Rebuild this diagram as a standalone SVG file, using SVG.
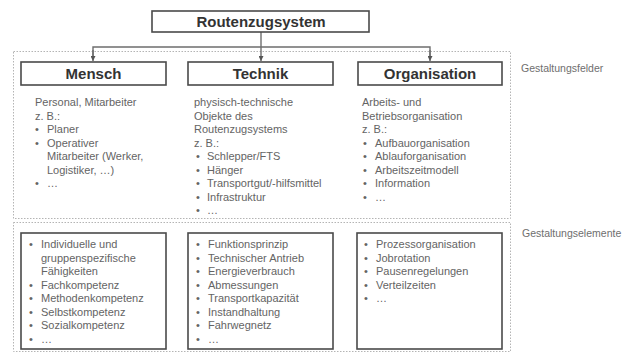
<svg xmlns="http://www.w3.org/2000/svg" width="644" height="352" viewBox="0 0 644 352">
  <style>
    .box { fill: #ffffff; stroke: #4a4a4a; stroke-width: 1.6; }
    .frame { fill: none; stroke: #b4b4b4; stroke-width: 1; stroke-dasharray: 1.5 1.5; }
    .head { font-family: "Liberation Sans", Arial, sans-serif; font-size: 15px; font-weight: bold; fill: #333333; text-anchor: middle; }
    .txt { font-family: "Liberation Sans", Arial, sans-serif; font-size: 11px; fill: #646464; }
    .side { font-family: "Liberation Sans", Arial, sans-serif; font-size: 10.5px; fill: #6e6e6e; }
    .conn { fill: none; stroke: #6e6e6e; stroke-width: 1.4; }
  </style>
  <defs>
    <marker id="arrow" viewBox="0 0 8 8" refX="8" refY="4" markerWidth="5" markerHeight="5" orient="auto" markerUnits="userSpaceOnUse">
      <path d="M0,0 L8,4 L0,8 z" fill="#555555"/>
    </marker>
  </defs>

  <!-- dotted frames: design fields and design elements -->
  <rect class="frame" x="13.5" y="51.5" width="497" height="167"/>
  <rect class="frame" x="13.5" y="222.5" width="497" height="129"/>

  <text class="side" x="521" y="72">Gestaltungsfelder</text>
  <text class="side" x="522" y="237">Gestaltungselemente</text>

  <!-- connectors -->
  <g id="connectors">
    <path class="conn" d="M261,32 V47"/>
    <path class="conn" d="M93,56 V47 H430 V56"/>
    <path class="conn" d="M93,50 V61" marker-end="url(#arrow)"/>
    <path class="conn" d="M261,47 V61" marker-end="url(#arrow)"/>
    <path class="conn" d="M430,50 V61" marker-end="url(#arrow)"/>
  </g>

  <g id="root">
    <rect class="box" x="152" y="11" width="217" height="21"/>
    <text class="head" x="261" y="27">Routenzugsystem</text>
  </g>

  <!-- Mensch -->
  <g id="mensch">
    <rect class="box" x="21" y="62" width="145" height="23"/>
    <text class="head" x="93.5" y="79">Mensch</text>
    <text class="txt" x="35" y="106">Personal, Mitarbeiter</text>
    <text class="txt" x="35" y="119.5">z. B.:</text>
    <text class="txt" x="35" y="133">•</text><text class="txt" x="47" y="133">Planer</text>
    <text class="txt" x="35" y="146.5">•</text><text class="txt" x="47" y="146.5">Operativer</text>
    <text class="txt" x="47" y="160">Mitarbeiter (Werker,</text>
    <text class="txt" x="47" y="173.5">Logistiker, …)</text>
    <text class="txt" x="35" y="187">•</text><text class="txt" x="47" y="187">…</text>
  </g>

  <!-- Technik -->
  <g id="technik">
    <rect class="box" x="188" y="62" width="145" height="23"/>
    <text class="head" x="260.5" y="79">Technik</text>
    <text class="txt" x="194" y="106">physisch-technische</text>
    <text class="txt" x="194" y="119.5">Objekte des</text>
    <text class="txt" x="194" y="133">Routenzugsystems</text>
    <text class="txt" x="194" y="146.5">z. B.:</text>
    <text class="txt" x="196" y="160">•</text><text class="txt" x="207" y="160">Schlepper/FTS</text>
    <text class="txt" x="196" y="173.5">•</text><text class="txt" x="207" y="173.5">Hänger</text>
    <text class="txt" x="196" y="187">•</text><text class="txt" x="207" y="187">Transportgut/-hilfsmittel</text>
    <text class="txt" x="196" y="200.5">•</text><text class="txt" x="207" y="200.5">Infrastruktur</text>
    <text class="txt" x="196" y="214">•</text><text class="txt" x="207" y="214">…</text>
  </g>

  <!-- Organisation -->
  <g id="organisation">
    <rect class="box" x="358" y="62" width="144" height="23"/>
    <text class="head" x="430" y="79">Organisation</text>
    <text class="txt" x="362" y="106">Arbeits- und</text>
    <text class="txt" x="362" y="119.5">Betriebsorganisation</text>
    <text class="txt" x="362" y="133">z. B.:</text>
    <text class="txt" x="363" y="146.5">•</text><text class="txt" x="375" y="146.5">Aufbauorganisation</text>
    <text class="txt" x="363" y="160">•</text><text class="txt" x="375" y="160">Ablauforganisation</text>
    <text class="txt" x="363" y="173.5">•</text><text class="txt" x="375" y="173.5">Arbeitszeitmodell</text>
    <text class="txt" x="363" y="187">•</text><text class="txt" x="375" y="187">Information</text>
    <text class="txt" x="363" y="200.5">•</text><text class="txt" x="375" y="200.5">…</text>
  </g>

  <!-- design elements -->
  <g id="elemente-mensch">
    <rect class="box" x="21" y="233" width="145" height="116"/>
    <text class="txt" x="29" y="248">•</text><text class="txt" x="41" y="248">Individuelle und</text>
    <text class="txt" x="41" y="261.5">gruppenspezifische</text>
    <text class="txt" x="41" y="275">Fähigkeiten</text>
    <text class="txt" x="29" y="288.5">•</text><text class="txt" x="41" y="288.5">Fachkompetenz</text>
    <text class="txt" x="29" y="302">•</text><text class="txt" x="41" y="302">Methodenkompetenz</text>
    <text class="txt" x="29" y="315.5">•</text><text class="txt" x="41" y="315.5">Selbstkompetenz</text>
    <text class="txt" x="29" y="329">•</text><text class="txt" x="41" y="329">Sozialkompetenz</text>
    <text class="txt" x="29" y="342.5">•</text><text class="txt" x="41" y="342.5">…</text>
  </g>

  <g id="elemente-technik">
    <rect class="box" x="188" y="233" width="145" height="116"/>
    <text class="txt" x="196" y="248">•</text><text class="txt" x="208" y="248">Funktionsprinzip</text>
    <text class="txt" x="196" y="261.5">•</text><text class="txt" x="208" y="261.5">Technischer Antrieb</text>
    <text class="txt" x="196" y="275">•</text><text class="txt" x="208" y="275">Energieverbrauch</text>
    <text class="txt" x="196" y="288.5">•</text><text class="txt" x="208" y="288.5">Abmessungen</text>
    <text class="txt" x="196" y="302">•</text><text class="txt" x="208" y="302">Transportkapazität</text>
    <text class="txt" x="196" y="315.5">•</text><text class="txt" x="208" y="315.5">Instandhaltung</text>
    <text class="txt" x="196" y="329">•</text><text class="txt" x="208" y="329">Fahrwegnetz</text>
    <text class="txt" x="196" y="342.5">•</text><text class="txt" x="208" y="342.5">…</text>
  </g>

  <g id="elemente-organisation">
    <rect class="box" x="357" y="233" width="145" height="116"/>
    <text class="txt" x="364" y="248">•</text><text class="txt" x="376" y="248">Prozessorganisation</text>
    <text class="txt" x="364" y="261.5">•</text><text class="txt" x="376" y="261.5">Jobrotation</text>
    <text class="txt" x="364" y="275">•</text><text class="txt" x="376" y="275">Pausenregelungen</text>
    <text class="txt" x="364" y="288.5">•</text><text class="txt" x="376" y="288.5">Verteilzeiten</text>
    <text class="txt" x="364" y="302">•</text><text class="txt" x="376" y="302">…</text>
  </g>
</svg>
